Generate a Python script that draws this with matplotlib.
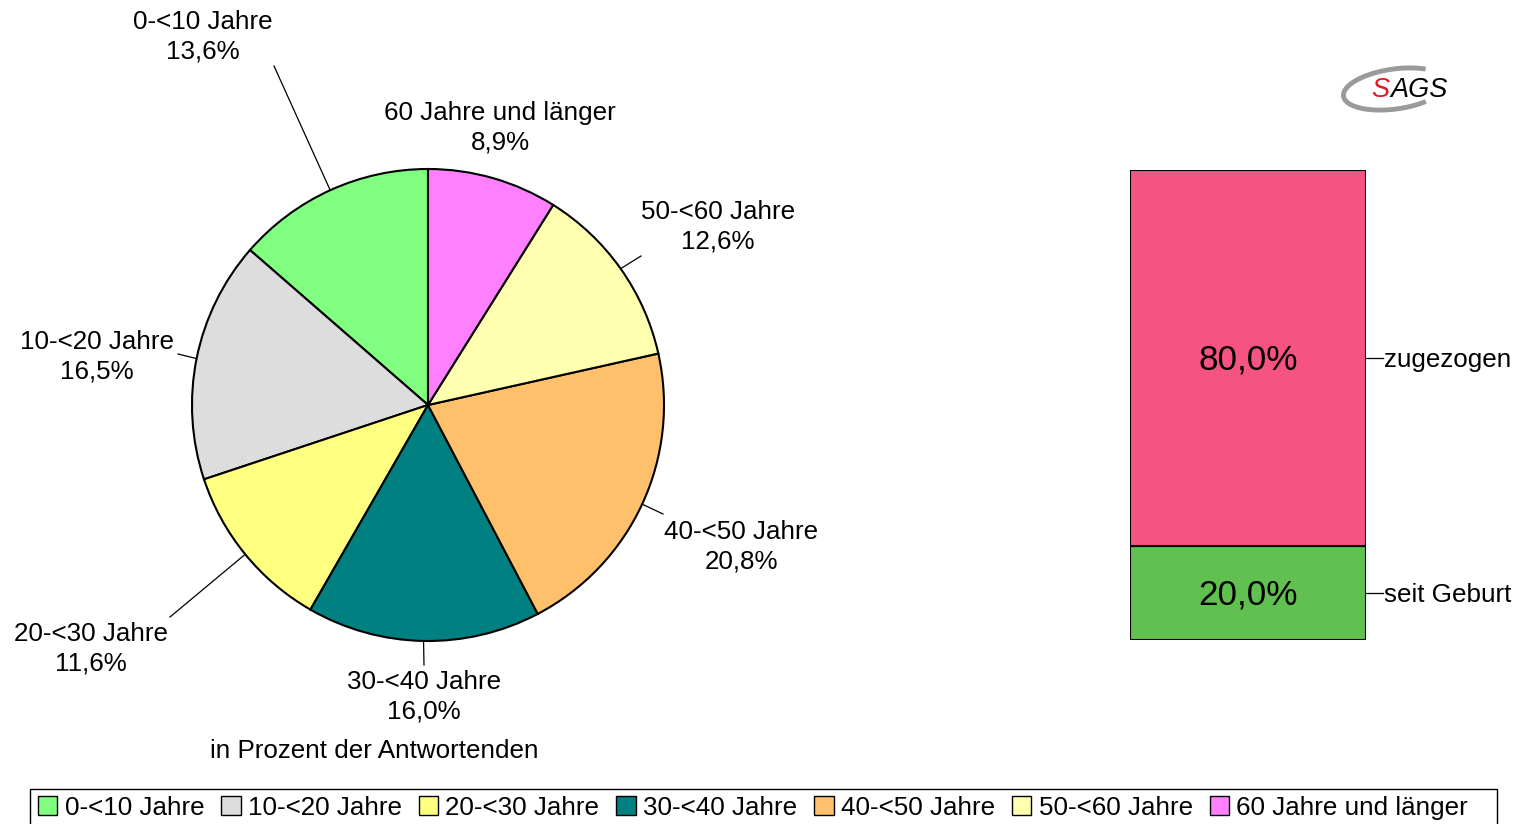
import numpy as np
import matplotlib
matplotlib.use("Agg")
import matplotlib.pyplot as plt
from matplotlib.patches import Arc, Patch, Rectangle

plt.rcParams['font.family'] = ['Liberation Sans', 'DejaVu Sans']

# =============================================================================
# Data
# =============================================================================

age_groups = ["0-<10 Jahre", "10-<20 Jahre", "20-<30 Jahre", "30-<40 Jahre",
              "40-<50 Jahre", "50-<60 Jahre", "60 Jahre und länger"]
age_shares = [13.6, 16.5, 11.6, 16.0, 20.8, 12.6, 8.9]
age_colors = ["#80FF80", "#DDDDDD", "#FFFF80", "#008080",
              "#FFC06C", "#FFFFB0", "#FF80FF"]

origin_groups = ["seit Geburt", "zugezogen"]
origin_shares = [20.0, 80.0]
origin_colors = ["#60C050", "#F55382"]

W, H = 1518, 824
FS = 18.7


def py(y):
    # image-row (top down) -> plot y (bottom up)
    return H - y


def fmt(v):
    return f"{v:.1f}".replace(".", ",") + "%"


# =============================================================================
# Layout (pixel positions of label blocks and leader-line ends)
# =============================================================================

pie_center = (428, 405)
pie_radius = 236
label_pos = [(203, 37), (97, 357), (91, 649), (424, 697),
             (741, 547), (718, 227), (500, 128)]
line_end = [(274, 66), (178, 354), (170, 617), (424, 665),
            (663, 514), (641, 256), None]

fig = plt.figure(figsize=(W / 100, H / 100), dpi=100)

# ---- pie -------------------------------------------------------------------
ax = fig.add_axes([0, 0, 1, 1])
wedges, _ = ax.pie(age_shares, colors=age_colors, startangle=90, counterclock=True,
                   center=(pie_center[0], py(pie_center[1])), radius=pie_radius,
                   wedgeprops=dict(edgecolor="black", linewidth=1.5))
ax.set_xlim(0, W)
ax.set_ylim(0, H)
ax.set_aspect("equal")
ax.axis("off")

for w, name, val, lp, le in zip(wedges, age_groups, age_shares, label_pos, line_end):
    mid = np.deg2rad((w.theta1 + w.theta2) / 2)
    ex = pie_center[0] + pie_radius * np.cos(mid)
    ey = py(pie_center[1]) + pie_radius * np.sin(mid)
    if le is not None:
        ax.plot([ex, le[0]], [ey, py(le[1])], color="black", lw=0.9)
    ax.text(lp[0], py(lp[1]), f"{name}\n{fmt(val)}", ha="center", va="center",
            fontsize=FS, linespacing=1.3)

ax.text(374, py(751), "in Prozent der Antwortenden", ha="center", va="center",
        fontsize=FS)

# ---- logo ------------------------------------------------------------------
ax.add_patch(Arc((1395, py(89)), 104, 40, angle=8, theta1=25, theta2=330,
                 color="#9A9A9A", lw=3.5))
ax.text(1371, py(90), "S", color="#E8141E", style="italic", fontsize=19.5,
        ha="left", va="center")
ax.text(1390, py(90), "AGS", color="black", style="italic", fontsize=19.5,
        ha="left", va="center")

# ---- stacked bar -----------------------------------------------------------
bx0, bx1, by0, by1 = 1130, 1366, 170, 640
bax = fig.add_axes([bx0 / W, py(by1) / H, (bx1 - bx0) / W, (by1 - by0) / H])
bottom = 0
nudge = 100 * 2 / (by1 - by0)  # 2 px downwards
for name, val, col in zip(origin_groups, origin_shares, origin_colors):
    bax.bar(0, val, bottom=bottom, width=1, color=col, edgecolor="black", lw=1.5)
    mid = bottom + val / 2
    bax.text(0, mid - nudge, fmt(val), ha="center", va="center", fontsize=25.3)
    bax.plot([0.5, 0.57], [mid, mid], color="black", lw=0.9, clip_on=False)
    bax.text(0.575, mid - nudge, name, ha="left", va="center", fontsize=FS)
    bottom += val
bax.set_xlim(-0.5, 0.5)
bax.set_ylim(0, 100)
bax.axis("off")

# ---- legend ----------------------------------------------------------------
handles = [Patch(facecolor=c, edgecolor="black", lw=1) for c in age_colors]
leg = fig.legend(handles, age_groups, ncol=7, loc="upper left",
                 bbox_to_anchor=(30 / W, py(788) / H), fontsize=FS,
                 frameon=False,
                 handlelength=0.75, handleheight=0.75, handletextpad=0.28,
                 columnspacing=0.65, borderpad=0.3, borderaxespad=0)
fig.add_artist(Rectangle((30 / W, py(832) / H), (1497 - 30) / W, 43 / H,
                         transform=fig.transFigure, fill=False,
                         edgecolor="black", lw=1))

fig.savefig("out.png", dpi=100)
